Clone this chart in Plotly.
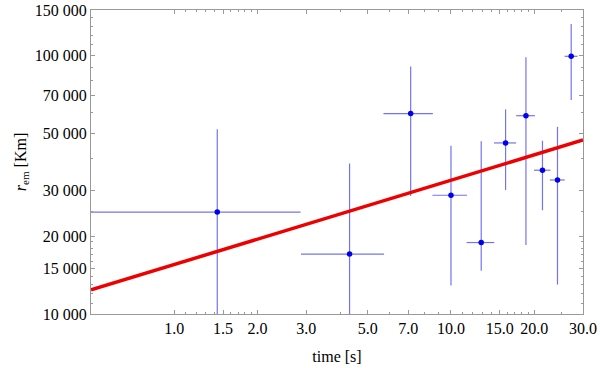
import plotly.graph_objects as go

# data
time_s = [1.43, 4.30, 7.15, 10.0, 12.86, 15.75, 18.66, 21.41, 24.26, 27.19]
time_err = [1.43, 1.43, 1.45, 1.43, 1.47, 1.45, 1.45, 1.46, 1.50, 1.45]
r_em = [24800, 17050, 59600, 28800, 18900, 45900, 58500, 36000, 33000, 99300]
r_err_plus = [27000, 21200, 31000, 16000, 27700, 16000, 40000, 10800, 20000, 33000]
r_err_minus = [27000, 21200, 31000, 15900, 4200, 15700, 40000, 10800, 20000, 32000]

fit_t = [0.5, 30.0]
fit_r = [12400, 47100]

x_tickvals = [1.0, 1.5, 2.0, 3.0, 5.0, 7.0, 10.0, 15.0, 20.0, 30.0]
x_ticktext = ["1.0", "1.5", "2.0", "3.0", "5.0", "7.0", "10.0", "15.0", "20.0", "30.0"]
x_minor = [1.1, 1.2, 1.3, 1.4, 1.6, 1.7, 1.8, 1.9, 4, 6, 8, 9, 11, 12, 13, 14, 16, 17, 18, 19, 25]
y_tickvals = [10000, 15000, 20000, 30000, 50000, 70000, 100000, 150000]
y_ticktext = ["10 000", "15 000", "20 000", "30 000", "50 000",
              "70 000", "100 000", "150 000"]
y_minor = [11000, 12000, 13000, 14000, 16000, 17000, 18000, 19000, 25000, 40000,
           60000, 80000, 90000, 110000, 120000, 130000, 140000]

FONT = "Liberation Serif"
AXC = "#999999"

fig = go.Figure()
fig.add_trace(go.Scatter(
    x=time_s, y=r_em, mode="markers",
    marker=dict(color="#0000ee", size=5.5),
    error_x=dict(type="data", array=time_err, color="rgba(70,70,230,0.75)", thickness=1.2, width=0),
    error_y=dict(type="data", array=r_err_plus, arrayminus=r_err_minus, symmetric=False,
                 color="rgba(70,70,230,0.75)", thickness=1.2, width=0),
    showlegend=False,
))
fig.add_trace(go.Scatter(
    x=fit_t, y=fit_r, mode="lines", line=dict(color="#ee0000", width=3.5), showlegend=False,
))

axis_common = dict(
    showline=True, linecolor=AXC, linewidth=1, mirror="ticks",
    ticks="inside", ticklen=4, tickcolor=AXC, tickwidth=1,
    showgrid=False, zeroline=False, ticklabeloverflow="allow",
    tickfont=dict(family=FONT, size=16, color="black"),
)

fig.update_xaxes(
    type="log", range=[-0.30103, 1.4771],
    tickvals=x_tickvals, ticktext=x_ticktext,
    minor=dict(tickvals=x_minor, ticks="inside", ticklen=2, tickcolor=AXC, showgrid=False),
    title=dict(text="time [s]", font=dict(family=FONT, size=16, color="black"), standoff=14),
    **axis_common,
)
fig.update_yaxes(
    type="log", range=[4.0, 5.17609],
    tickvals=y_tickvals, ticktext=y_ticktext,
    minor=dict(tickvals=y_minor, ticks="inside", ticklen=2, tickcolor=AXC, showgrid=False),
    title=dict(text="<i>r</i><sub>em</sub> [Km]", font=dict(family=FONT, size=16, color="black"), standoff=4),
    **axis_common,
)
fig.update_layout(
    width=600, height=368,
    margin=dict(l=91, r=17, t=10, b=54, autoexpand=False),
    plot_bgcolor="white", paper_bgcolor="white",
    font=dict(family=FONT, size=16, color="black"),
)
fig.write_html("out.html", config={"displayModeBar": False},
               post_script="document.body.style.margin='0';document.body.style.overflow='hidden';")
